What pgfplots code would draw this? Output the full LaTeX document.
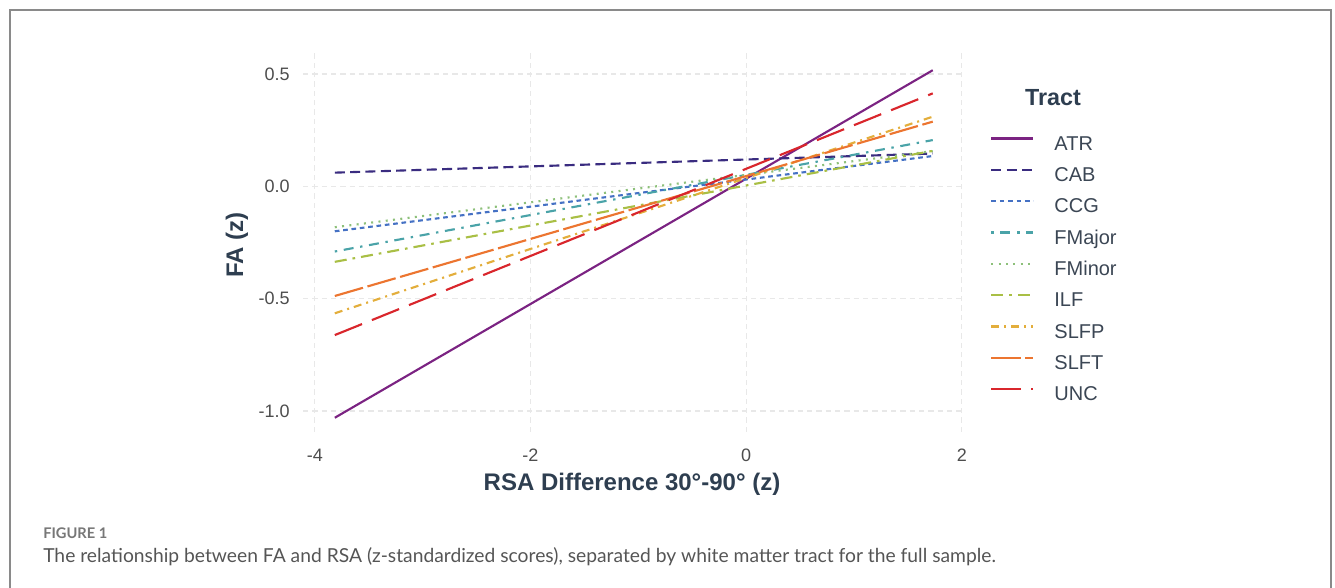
\documentclass[border=0pt]{standalone}
\usepackage{fontspec}
\setmainfont{Liberation Sans}
\newfontfamily\capfont{Lato}
\usepackage{pgfplots}
\pgfplotsset{compat=1.18}
\definecolor{cATR}{HTML}{7B2382}
\definecolor{cCAB}{HTML}{3A2C80}
\definecolor{cCCG}{HTML}{4571C4}
\definecolor{cFMajor}{HTML}{4AA3A8}
\definecolor{cFMinor}{HTML}{8DC07A}
\definecolor{cILF}{HTML}{A9BF45}
\definecolor{cSLFP}{HTML}{E3AE3C}
\definecolor{cSLFT}{HTML}{EC7530}
\definecolor{cUNC}{HTML}{D9262C}
\definecolor{gridcol}{HTML}{E8E8E8}
\definecolor{tickcol}{HTML}{4D4D4D}
\definecolor{titlecol}{HTML}{2E3E50}
\definecolor{legtext}{HTML}{3B4654}
\definecolor{framecol}{HTML}{8A8A8A}
\definecolor{capcol}{HTML}{555555}
\definecolor{figcol}{HTML}{777777}
\begin{document}
\begin{tikzpicture}
\path[use as bounding box] (0,0) rectangle (1001.25pt,-440.25pt);
\draw[framecol, line width=1.1pt] (7.5pt,-445pt) -- (7.5pt,-7.5pt) -- (998.25pt,-7.5pt) -- (998.25pt,-445pt);
\begin{axis}[
  at={(227.25pt,-39pt)}, anchor=north west,
  scale only axis, width=496.5pt, height=285pt,
  xmin=-4.11, xmax=2.03, ymin=-1.0935, ymax=0.598,
  axis line style={draw=none}, major tick length=0pt,
  xtick={-4,-2,0,2}, xticklabels={-4,-2,0,2},
  ytick={-1,-0.5,0,0.5}, yticklabels={-1.0,-0.5,0.0,0.5},
  grid=major,
  major grid style={gridcol, line width=0.8pt, dash pattern=on 4pt off 3pt},
  tick label style={font=\fontsize{13.5}{16}\selectfont, text=tickcol},
  xticklabel style={anchor=north, inner sep=0pt, yshift=-12.75pt},
  yticklabel style={anchor=east, inner sep=0pt, xshift=-9.75pt},
  xlabel={RSA Difference 30°-90° (z)},
  ylabel={FA (z)},
  xlabel style={at={(axis description cs:0.497,-0.137)}, anchor=center, font=\bfseries\fontsize{18}{21}\selectfont, text=titlecol},
  ylabel style={at={(axis description cs:-0.0997,0.492)}, anchor=center, font=\bfseries\fontsize{18}{21}\selectfont, text=titlecol},
  legend image code/.code={\draw[#1] (0pt,0.36em) -- (31.5pt,0.36em); \path (46.5pt,0.36em);},
  legend cell align=left,
  legend style={at={(axis description cs:1.0378,0.779)}, anchor=north west, draw=none, fill=none, inner sep=0pt,
    font=\fontsize{15}{17}\selectfont, text=legtext, row sep=13pt,
    nodes={inner sep=0pt, text height=10.5pt, text depth=0pt}},
  every axis plot/.append style={line width=1.6pt, line cap=butt},
]
\addplot[cATR] coordinates {(-3.815,-1.030) (1.731,0.517)};
\addlegendentry{ATR}
\addplot[cCAB, dash pattern=on 7.5pt off 4pt] coordinates {(-3.815,0.061) (1.731,0.146)};
\addlegendentry{CAB}
\addplot[cCCG, dash pattern=on 3.5pt off 2.8pt] coordinates {(-3.815,-0.200) (1.731,0.135)};
\addlegendentry{CCG}
\addplot[cFMajor, dash pattern=on 1.8pt off 5pt on 7.5pt off 5pt] coordinates {(-3.815,-0.290) (1.731,0.206)};
\addlegendentry{FMajor}
\addplot[cFMinor, dash pattern=on 1.5pt off 4pt] coordinates {(-3.815,-0.182) (1.731,0.157)};
\addlegendentry{FMinor}
\addplot[cILF, dash pattern=on 9pt off 4.5pt on 2pt off 4.5pt] coordinates {(-3.815,-0.336) (1.731,0.158)};
\addlegendentry{ILF}
\addplot[cSLFP, dash pattern=on 6pt off 3.75pt on 1.5pt off 3.75pt] coordinates {(-3.815,-0.565) (1.731,0.310)};
\addlegendentry{SLFP}
\addplot[cSLFT, dash pattern=on 22pt off 3.5pt] coordinates {(-3.815,-0.488) (1.731,0.288)};
\addlegendentry{SLFT}
\addplot[cUNC, dash pattern=on 22pt off 8pt] coordinates {(-3.815,-0.662) (1.731,0.414)};
\addlegendentry{UNC}
\end{axis}
\node[font=\bfseries\fontsize{17.5}{20}\selectfont, text=titlecol, anchor=center] at (789.75pt,-73.5pt) {Tract};
\node[font=\capfont\bfseries\fontsize{11}{13}\selectfont, text=figcol, anchor=west, inner sep=0pt] at (32.25pt,-399.75pt) {FIGURE 1};
\node[font=\capfont\fontsize{14.45}{17}\selectfont, text=capcol, anchor=west, inner sep=0pt] at (32.25pt,-417.75pt) {The relationship between FA and RSA (z-standardized scores), separated by white matter tract for the full sample.};
\end{tikzpicture}
\end{document}
